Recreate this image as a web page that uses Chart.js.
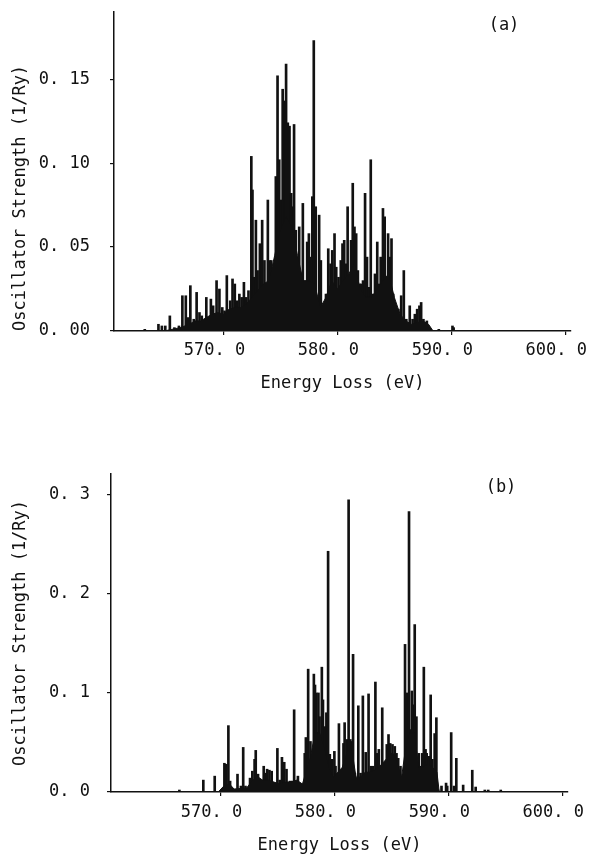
<!DOCTYPE html>
<html>
<head>
<meta charset="utf-8">
<script src="https://cdn.jsdelivr.net/npm/chart.js@4.4.1/dist/chart.umd.min.js"></script>
<style>
  body { margin: 0; background: #fff; }
  .panel { position: absolute; left: 0; width: 592px; }
</style>
</head>
<body>
<div class="panel" style="top:0; height:400px;"><canvas id="chart-a"></canvas></div>
<div class="panel" style="top:440px; height:416px;"><canvas id="chart-b"></canvas></div>
<script>
// energy axis, shared by both panels
const xTicks = [570, 580, 590, 600];
const xTickLabels = ['570. 0', '580. 0', '590. 0', '600. 0'];

// (a) line positions (eV) and oscillator strengths (1/Ry)
const energyA = [563.1, 564.3, 564.6, 564.9, 565.3, 565.7, 566.1, 566.4, 566.7, 566.9,
  567.1, 567.4, 567.65, 567.9, 568.1, 568.5, 568.9, 569.1, 569.4, 569.65,
  569.9, 570.1, 570.3, 570.6, 570.8, 571.0, 571.2, 571.4, 571.6, 571.8,
  572.0, 572.2, 572.45, 572.55, 572.7, 572.85, 573.0, 573.2, 573.4, 573.6,
  573.75, 573.9, 574.05, 574.2, 574.4, 574.6, 574.75, 574.9, 575.05, 575.2,
  575.35, 575.5, 575.65, 575.8, 575.95, 576.05, 576.2, 576.35, 576.5, 576.65,
  576.8, 576.97, 577.15, 577.35, 577.5, 577.65, 577.8, 577.93, 578.1, 578.25,
  578.4, 578.55, 578.75, 579.0, 579.2, 579.4, 579.55, 579.75, 579.9, 580.1,
  580.3, 580.45, 580.6, 580.75, 580.9, 581.05, 581.2, 581.35, 581.5, 581.65,
  581.8, 581.95, 582.1, 582.25, 582.43, 582.6, 582.75, 582.93, 583.1, 583.3,
  583.5, 583.65, 583.8, 584.0, 584.15, 584.3, 584.45, 584.6, 584.75, 584.9,
  585.1, 585.35, 585.6, 585.83, 586.05, 586.35, 586.6, 586.8, 587.0, 587.2,
  587.35, 587.55, 587.85, 588.9, 590.1, 590.2];
const strengthA = [0.001, 0.004, 0.003, 0.003, 0.009, 0.002, 0.003, 0.021, 0.021, 0.008,
  0.027, 0.007, 0.023, 0.011, 0.009, 0.020, 0.019, 0.015, 0.030, 0.025,
  0.014, 0.012, 0.033, 0.018, 0.031, 0.028, 0.018, 0.022, 0.020, 0.029,
  0.020, 0.024, 0.104, 0.084, 0.032, 0.066, 0.036, 0.052, 0.066, 0.042,
  0.022, 0.078, 0.042, 0.042, 0.034, 0.092, 0.152, 0.102, 0.078, 0.144,
  0.137, 0.159, 0.124, 0.122, 0.082, 0.074, 0.123, 0.060, 0.044, 0.062,
  0.034, 0.076, 0.026, 0.053, 0.058, 0.044, 0.080, 0.173, 0.074, 0.020,
  0.069, 0.042, 0.013, 0.022, 0.049, 0.040, 0.048, 0.058, 0.038, 0.032,
  0.042, 0.052, 0.054, 0.040, 0.074, 0.028, 0.054, 0.088, 0.062, 0.058,
  0.036, 0.028, 0.028, 0.030, 0.082, 0.044, 0.026, 0.102, 0.022, 0.034,
  0.053, 0.028, 0.044, 0.073, 0.068, 0.028, 0.058, 0.044, 0.055, 0.022,
  0.011, 0.013, 0.021, 0.036, 0.007, 0.015, 0.007, 0.010, 0.013, 0.015,
  0.017, 0.007, 0.006, 0.001, 0.003, 0.002];
// (a) unresolved floor under the lines
const floorEnergyA = [564.8, 565.5, 566.2, 567.0, 567.5, 568.0, 568.5, 569.0, 569.5, 570.0,
  570.5, 571.0, 571.5, 572.0, 572.5, 573.0, 573.5, 574.0, 574.5, 575.0,
  575.5, 576.0, 576.5, 577.0, 577.5, 578.0, 578.5, 579.0, 579.5, 580.0,
  580.5, 581.0, 581.5, 582.0, 582.5, 583.0, 583.5, 584.0, 584.5, 585.0,
  585.5, 586.0, 586.5, 587.0, 587.5, 588.0, 588.4];
const floorStrengthA = [0, 0.001, 0.002, 0.004, 0.006, 0.006, 0.008, 0.010, 0.011, 0.010,
  0.013, 0.014, 0.014, 0.016, 0.020, 0.024, 0.028, 0.030, 0.045, 0.060,
  0.068, 0.062, 0.045, 0.030, 0.030, 0.028, 0.014, 0.020, 0.030, 0.025,
  0.030, 0.034, 0.040, 0.025, 0.020, 0.020, 0.025, 0.030, 0.034, 0.020,
  0.010, 0.006, 0.004, 0.005, 0.006, 0.004, 0];
const yTicksA = [0, 0.05, 0.10, 0.15];
const yTickLabelsA = ['0. 00', '0. 05', '0. 10', '0. 15'];

// (b) line positions (eV) and oscillator strengths (1/Ry)
const energyB = [566.4, 568.5, 569.5, 570.35, 570.5, 570.7, 570.85, 571.5, 571.8, 572.0,
  572.2, 572.6, 572.8, 573.0, 573.1, 573.3, 573.6, 573.8, 573.9, 574.1,
  574.3, 574.5, 574.7, 575.0, 575.2, 575.4, 575.6, 575.8, 576.1, 576.3,
  576.47, 576.6, 576.8, 577.1, 577.4, 577.5, 577.7, 577.9, 578.1, 578.2,
  578.3, 578.4, 578.6, 578.7, 578.9, 579.0, 579.2, 579.3, 579.45, 579.6,
  579.8, 580.0, 580.1, 580.4, 580.6, 580.8, 580.9, 581.1, 581.25, 581.4,
  581.5, 581.64, 581.8, 582.1, 582.3, 582.5, 582.65, 582.75, 583.0, 583.2,
  583.4, 583.6, 583.75, 583.9, 584.2, 584.4, 584.6, 584.75, 584.9, 585.1,
  585.3, 585.45, 585.6, 585.8, 586.0, 586.2, 586.4, 586.55, 586.7, 586.8,
  586.9, 587.05, 587.2, 587.4, 587.5, 587.7, 587.85, 588.0, 588.1, 588.3,
  588.45, 588.6, 588.8, 588.95, 589.1, 589.4, 589.8, 589.9, 590.25, 590.5,
  590.7, 591.3, 592.1, 592.4, 593.2, 593.5, 594.6];
const strengthB = [0.002, 0.012, 0.016, 0.029, 0.028, 0.067, 0.011, 0.018, 0.006, 0.045,
  0.006, 0.014, 0.021, 0.033, 0.042, 0.018, 0.012, 0.026, 0.019, 0.023,
  0.022, 0.021, 0.009, 0.044, 0.012, 0.035, 0.030, 0.023, 0.011, 0.011,
  0.083, 0.009, 0.016, 0.007, 0.039, 0.055, 0.124, 0.051, 0.036, 0.119,
  0.108, 0.100, 0.100, 0.076, 0.126, 0.093, 0.066, 0.080, 0.243, 0.038,
  0.033, 0.041, 0.026, 0.069, 0.019, 0.049, 0.070, 0.053, 0.295, 0.053,
  0.051, 0.139, 0.019, 0.087, 0.019, 0.097, 0.019, 0.040, 0.099, 0.026,
  0.026, 0.111, 0.039, 0.043, 0.085, 0.011, 0.048, 0.058, 0.049, 0.048,
  0.046, 0.039, 0.034, 0.026, 0.012, 0.149, 0.100, 0.283, 0.063, 0.102,
  0.088, 0.169, 0.076, 0.039, 0.026, 0.039, 0.126, 0.043, 0.039, 0.036,
  0.098, 0.033, 0.059, 0.075, 0.002, 0.006, 0.009, 0.006, 0.060, 0.006,
  0.034, 0.007, 0.022, 0.005, 0.002, 0.002, 0.002];
// (b) unresolved floor under the lines
const floorEnergyB = [569.8, 570.3, 570.8, 571.2, 572.3, 572.7, 573.2, 573.7, 574.2, 574.7,
  575.2, 575.7, 576.2, 576.7, 577.2, 577.5, 577.9, 578.3, 578.7, 579.1,
  579.5, 579.9, 580.3, 580.7, 581.1, 581.5, 581.9, 582.3, 582.7, 583.1,
  583.5, 583.9, 584.3, 584.7, 585.1, 585.5, 585.9, 586.2, 586.6, 587.0,
  587.4, 587.8, 588.2, 588.6, 589.0, 589.2];
const floorStrengthB = [0, 0.006, 0.008, 0.003, 0.004, 0.010, 0.016, 0.012, 0.012, 0.010,
  0.008, 0.010, 0.010, 0.012, 0.008, 0.020, 0.035, 0.060, 0.060, 0.045,
  0.025, 0.015, 0.020, 0.025, 0.040, 0.045, 0.015, 0.015, 0.020, 0.020,
  0.022, 0.025, 0.030, 0.035, 0.040, 0.030, 0.015, 0.040, 0.060, 0.060,
  0.025, 0.025, 0.028, 0.025, 0.020, 0];
const yTicksB = [0, 0.1, 0.2, 0.3];
const yTickLabelsB = ['0. 0', '0. 1', '0. 2', '0. 3'];

Chart.defaults.font.family = '"DejaVu Sans Mono", monospace';
Chart.defaults.font.size = 17;
Chart.defaults.color = '#111';

// "(a)" / "(b)" in the upper right of each plot
const panelLabel = {
  id: 'panelLabel',
  afterDraw(chart, args, opts) {
    const { ctx, chartArea } = chart;
    ctx.save();
    ctx.font = '17px "DejaVu Sans Mono", monospace';
    ctx.fillStyle = '#111';
    ctx.textAlign = 'center';
    ctx.textBaseline = 'middle';
    ctx.fillText(opts.text, chartArea.right - 67, chartArea.top + 14);
    ctx.restore();
  }
};

function toPoints(xs, ys) {
  return xs.map((x, i) => ({ x: x, y: ys[i] }));
}

function spectrumChart(id, opt) {
  return new Chart(document.getElementById(id), {
    type: 'bar',
    data: {
      datasets: [{
        type: 'line',
        data: toPoints(opt.floorX, opt.floorY),
        borderColor: '#111',
        borderWidth: 1,
        backgroundColor: '#111',
        fill: 'origin',
        pointRadius: 0,
        tension: 0
      }, {
        data: toPoints(opt.x, opt.y),
        backgroundColor: '#111',
        barThickness: 2
      }]
    },
    options: {
      animation: false,
      responsive: true,
      maintainAspectRatio: false,
      layout: { padding: opt.padding },
      plugins: {
        legend: { display: false },
        tooltip: { enabled: false },
        panelLabel: { text: opt.label }
      },
      scales: {
        x: {
          type: 'linear',
          min: 560.4,
          max: 600.5,
          offset: false,
          afterBuildTicks: s => { s.ticks = xTicks.map(v => ({ value: v })); },
          afterFit: s => {
            s.height = opt.xHeight;
            s.paddingLeft = 0;
            s.paddingRight = 0;
          },
          grid: { drawOnChartArea: false, tickLength: 4, color: '#111', lineWidth: 1.2, offset: false },
          border: { color: '#111', width: 1.5 },
          ticks: {
            padding: opt.xPad,
            labelOffset: -9,
            maxRotation: 0,
            autoSkip: false,
            callback: (v, i) => xTickLabels[i]
          },
          title: { display: true, text: 'Energy Loss (eV)', padding: { top: 0, bottom: opt.xTitlePad } }
        },
        y: {
          min: 0,
          max: opt.yMax,
          afterBuildTicks: s => { s.ticks = opt.yTicks.map(v => ({ value: v })); },
          afterFit: s => {
            s.width = opt.yWidth;
            s.paddingTop = 0;
            s.paddingBottom = 0;
          },
          grid: { drawOnChartArea: false, tickLength: 4, color: '#111', lineWidth: 1.2 },
          border: { color: '#111', width: 1.5 },
          ticks: { padding: opt.yPad, callback: (v, i) => opt.yLabels[i] },
          title: {
            display: true,
            text: 'Oscillator Strength (1/Ry)',
            align: opt.yTitleAlign,
            padding: { top: 10, bottom: 0 }
          }
        }
      }
    },
    plugins: [panelLabel]
  });
}

const chartA = spectrumChart('chart-a', {
  x: energyA, y: strengthA, floorX: floorEnergyA, floorY: floorStrengthA,
  yMax: 0.19, yTicks: yTicksA, yLabels: yTickLabelsA, label: '(a)',
  padding: { top: 12, right: 21, left: 0, bottom: 0 },
  xHeight: 69, yWidth: 114, xPad: 5, yPad: 20, xTitlePad: 6, yTitleAlign: 'start'
});

const chartB = spectrumChart('chart-b', {
  x: energyB, y: strengthB, floorX: floorEnergyB, floorY: floorStrengthB,
  yMax: 0.321, yTicks: yTicksB, yLabels: yTickLabelsB, label: '(b)',
  padding: { top: 34, right: 24, left: 0, bottom: 0 },
  xHeight: 64, yWidth: 111, xPad: 6, yPad: 17, xTitlePad: 0, yTitleAlign: 'center'
});
</script>
</body>
</html>
